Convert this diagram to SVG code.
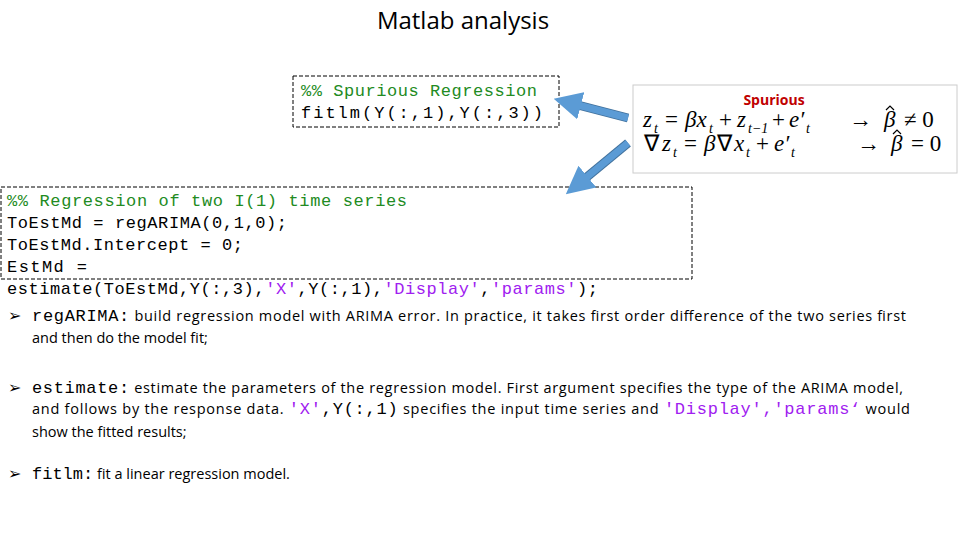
<svg xmlns="http://www.w3.org/2000/svg" width="960" height="540" viewBox="0 0 960 540">
<style>
.code{font-family:"Liberation Mono",monospace;font-size:17px;fill:#000}
.cm{fill:#228B22}
.str{fill:#A020F0}
.t{font-family:"Open Sans","Liberation Sans",sans-serif;font-size:14.5px;fill:#000}
.b{font-family:"DejaVu Sans",sans-serif;font-size:16px;fill:#000}
.box{fill:none;stroke:#000;stroke-width:1;stroke-dasharray:4,2}
.m{font-family:"Liberation Serif",serif;font-style:italic;font-size:23px;fill:#000}
.s{font-family:"Liberation Serif",serif;font-style:italic;font-size:14px;fill:#000}
.n{font-family:"Liberation Serif",serif;font-size:23px;fill:#000}
.hat{fill:none;stroke:#000;stroke-width:1.2}
</style>
<defs>
<marker id="ah" markerWidth="4" markerHeight="4" refX="1" refY="2" orient="auto"><path d="M0,0 L4,2 L0,4 z" fill="#5B9BD5"/></marker>
</defs>
<rect width="960" height="540" fill="#fff"/>
<text x="463" y="29" text-anchor="middle" font-family="Open Sans, Liberation Sans, sans-serif" font-size="24">Matlab analysis</text>
<g id="code1">
<rect class="box" x="293" y="76" width="266" height="51"/>
<text class="code cm" x="301" y="96" textLength="236">%% Spurious Regression</text>
<text class="code" x="301" y="118" textLength="242">fitlm(Y(:,1),Y(:,3))</text>
</g>
<g id="eq">
<rect x="633" y="85" width="324" height="88" fill="#fff" stroke="#ccc"/>
<text x="774" y="105" text-anchor="middle" font-family="Open Sans, Liberation Sans, sans-serif" font-weight="bold" font-size="14" fill="#C00000">Spurious</text>
<text class="m" x="643" y="127">z</text><text class="s" x="654" y="133">t</text>
<text class="n" x="665" y="127">=</text>
<text class="m" x="685" y="127">βx</text><text class="s" x="709" y="133">t</text>
<text class="n" x="719" y="127">+</text>
<text class="m" x="737" y="127">z</text><text class="s" x="748" y="133">t−1</text>
<text class="n" x="772" y="127">+</text>
<text class="m" x="789" y="127">e′</text><text class="s" x="806" y="133">t</text>
<text class="n" x="849" y="127">→</text>
<text class="m" x="884" y="127">β</text><path class="hat" d="M886,110 L890,106 L894,110"/>
<text class="n" x="904" y="127">≠ 0</text>
<text class="n" x="644" y="151">∇</text><text class="m" x="662" y="151">z</text><text class="s" x="673" y="157">t</text>
<text class="n" x="684" y="151">=</text>
<text class="m" x="704" y="151">β</text><text class="n" x="717" y="151">∇</text><text class="m" x="734" y="151">x</text><text class="s" x="746" y="157">t</text>
<text class="n" x="756" y="151">+</text>
<text class="m" x="774" y="151">e′</text><text class="s" x="791" y="157">t</text>
<text class="n" x="857" y="151">→</text>
<text class="m" x="891" y="151">β</text><path class="hat" d="M893,134 L897,130 L901,134"/>
<text class="n" x="911" y="151">= 0</text>
</g>
<g id="code2">
<rect class="box" x="1" y="187" width="691" height="92"/>
<text class="code cm" x="7" y="206" textLength="400">%% Regression of two I(1) time series</text>
<text class="code" x="7" y="228" textLength="280">ToEstMd = regARIMA(0,1,0);</text>
<text class="code" x="7" y="250" textLength="236">ToEstMd.Intercept = 0;</text>
<text class="code" x="7" y="272" textLength="80">EstMd =</text>
<text class="code" x="7" y="294" textLength="591">estimate(ToEstMd,Y(:,3),<tspan class="str">'X'</tspan>,Y(:,1),<tspan class="str">'Display'</tspan>,<tspan class="str">'params'</tspan>);</text>
</g>
<g id="connectors">
<line x1="628" y1="118" x2="574" y2="104" stroke="#41719C" stroke-width="9"/>
<line x1="628" y1="118" x2="574" y2="104" stroke="#5B9BD5" stroke-width="7" marker-end="url(#ah)"/>
<line x1="628" y1="143" x2="582" y2="181" stroke="#41719C" stroke-width="9"/>
<line x1="628" y1="143" x2="582" y2="181" stroke="#5B9BD5" stroke-width="7" marker-end="url(#ah)"/>
</g>
<g id="notes">
<text class="b" x="8" y="321">➢</text>
<text class="t" x="32" y="321" textLength="874"><tspan class="code" font-size="16">regARIMA:</tspan> build regression model with ARIMA error.  In practice, it takes first order difference of the two series first</text>
<text class="t" x="32" y="343">and then do the model fit;</text>
<text class="b" x="8" y="393">➢</text>
<text class="t" x="32" y="393" textLength="871"><tspan class="code" font-size="16">estimate:</tspan> estimate the parameters of the regression model. First argument specifies the type of the ARIMA model,</text>
<text class="t" x="32" y="414" textLength="878">and follows by the response data. <tspan class="code str" font-size="16">'X'</tspan><tspan class="code" font-size="16">,Y(:,1)</tspan> specifies the input time series and <tspan class="code str" font-size="16">'Display','params‘</tspan> would</text>
<text class="t" x="32" y="437">show the fitted results;</text>
<text class="b" x="8" y="479">➢</text>
<text class="t" x="32" y="479"><tspan class="code" font-size="16">fitlm:</tspan> fit a linear regression model.</text>
</g>
</svg>
